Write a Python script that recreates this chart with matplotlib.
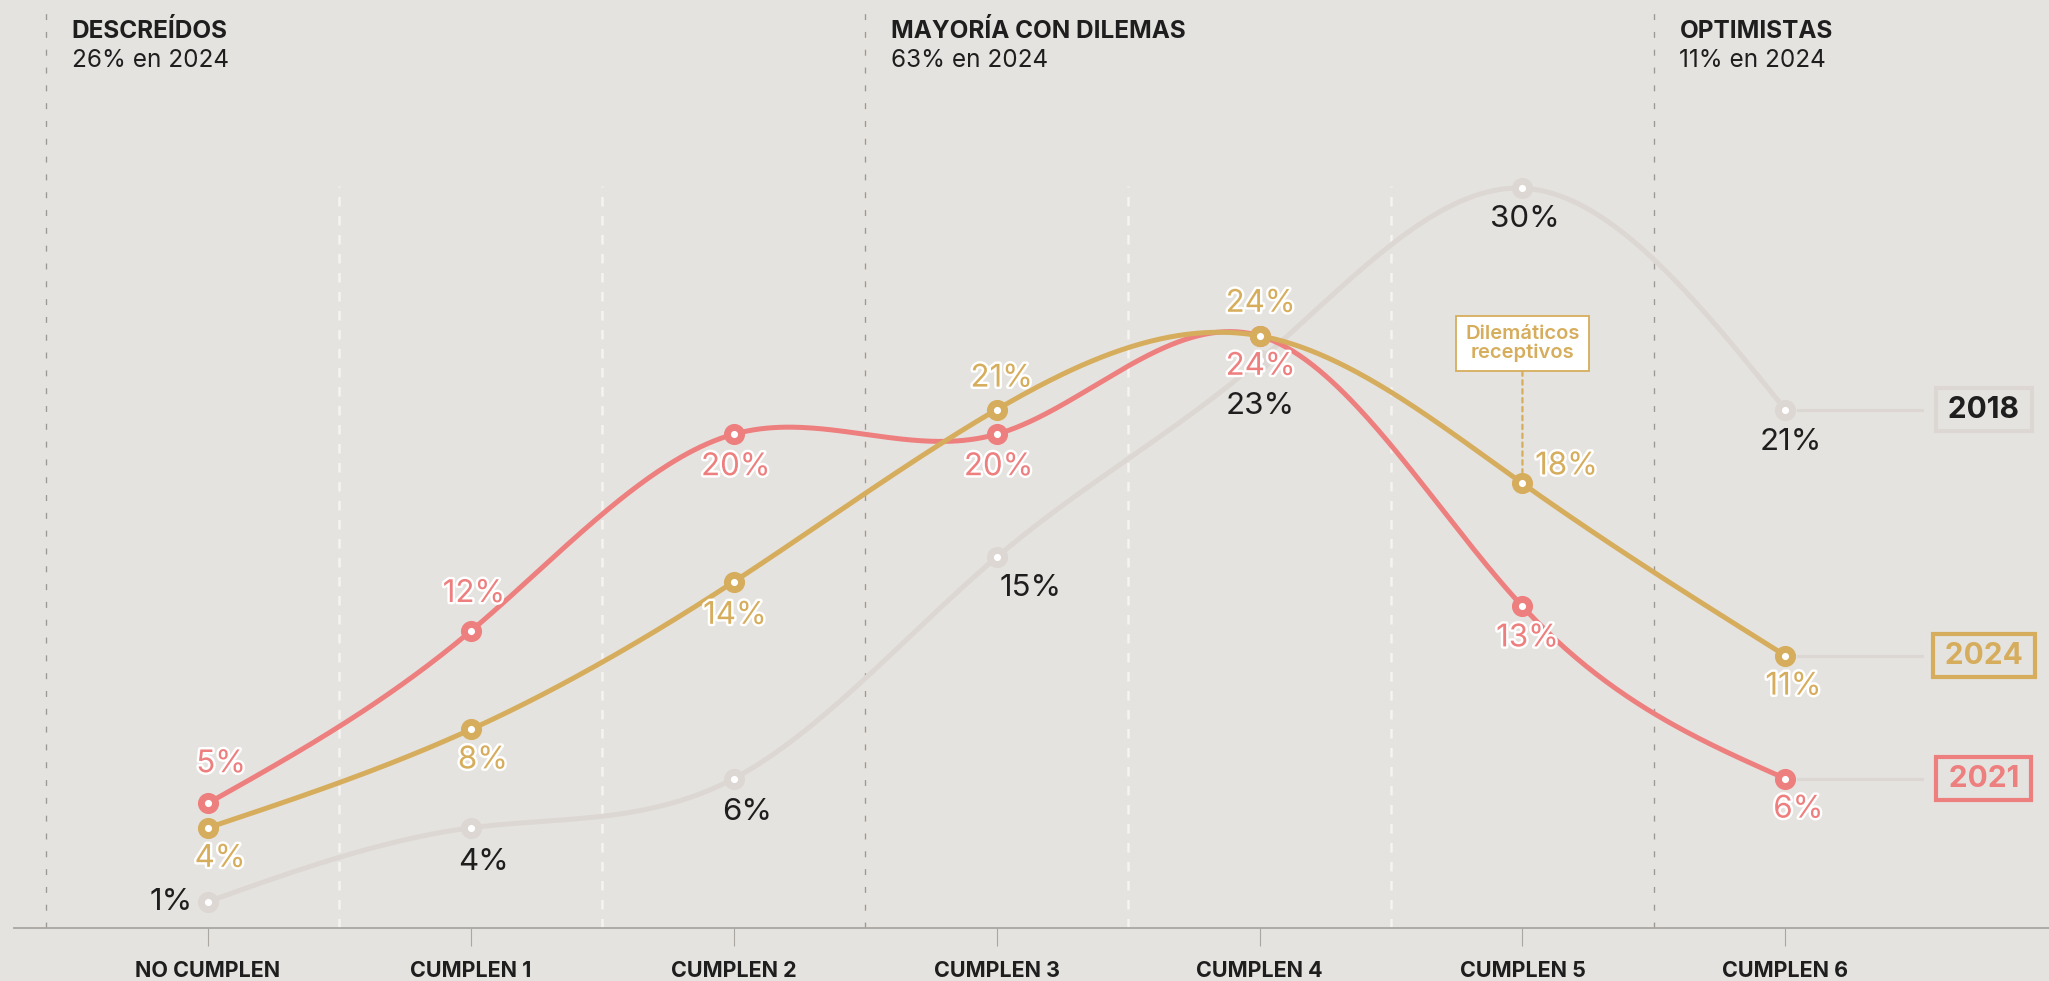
import numpy as np
import matplotlib
matplotlib.use('Agg')
from matplotlib import pyplot as plt
import matplotlib.patheffects as pe

plt.rcParams['font.family'] = ['Inter', 'DejaVu Sans']

# DATA
categories = ['NO CUMPLEN', 'CUMPLEN 1', 'CUMPLEN 2', 'CUMPLEN 3',
              'CUMPLEN 4', 'CUMPLEN 5', 'CUMPLEN 6']
v2018 = [1, 4, 6, 15, 23, 30, 21]
v2021 = [5, 12, 20, 20, 24, 13, 6]
v2024 = [4, 8, 14, 21, 24, 18, 11]
sections = ['DESCREÍDOS', 'MAYORÍA CON DILEMAS', 'OPTIMISTAS']
section_groups = [[0, 1, 2], [3, 4, 5], [6]]
annot_text = 'Dilemáticos\nreceptivos'
annot_idx = 5

# STYLE
bg = '#e5e3df'
c2018 = '#dcd7d3'
c2021 = '#ee7f7f'
c2024 = '#d6ad5c'
dark = '#1e1e1e'

# label offsets in pixels (dx, dy) measured down from the point
off2018 = [(-37, 0), (13, 34), (13, 33), (34, 31), (1, 46), (2, 31), (5, 32)]
off2021 = [(13, -39), (3, -37), (2, 33), (2, 33), (1, 31), (5, 32), (13, 31)]
off2024 = [(12, 31), (12, 31), (1, 34), (5, -31), (1, -32), (44, -17), (8, 31)]


def natural_spline(y, n=80):
    y = np.asarray(y, float)
    k = len(y)
    A = np.zeros((k, k))
    r = np.zeros(k)
    A[0, 0] = A[-1, -1] = 1
    for i in range(1, k - 1):
        A[i, i - 1] = 1
        A[i, i] = 4
        A[i, i + 1] = 1
        r[i] = 6 * (y[i + 1] - 2 * y[i] + y[i - 1])
    M = np.linalg.solve(A, r)
    xs, ys = [], []
    for i in range(k - 1):
        t = np.linspace(0, 1, n, endpoint=(i == k - 2))
        ys.append((1 - t) * y[i] + t * y[i + 1]
                  + (M[i] * ((1 - t) ** 3 - (1 - t)) + M[i + 1] * (t ** 3 - t)) / 6)
        xs.append(i + t)
    return np.concatenate(xs), np.concatenate(ys)


W, H = 2049, 981
fig = plt.figure(figsize=(W / 100, H / 100), dpi=100, facecolor=bg)
ax = fig.add_axes([14 / W, (H - 927.7) / H, 1 - 14 / W, 927.7 / H])
ax.set_facecolor(bg)
ax.set_xlim(-0.738, 7.003)
ax.set_ylim(-0.061, 37.65)

for s in ['top', 'left', 'right']:
    ax.spines[s].set_visible(False)
ax.spines['bottom'].set_color('#aaa6a2')
ax.spines['bottom'].set_linewidth(1.3)
ax.set_yticks([])
ax.set_xticks(range(len(categories)))
ax.set_xticklabels(categories, fontsize=15.5, fontweight='bold', color=dark)
ax.tick_params(axis='x', length=13, width=0.8, color='#aaa6a2', pad=11)

# section separators and headers
sec_x = [-0.615, 2.5, 5.5]
for x in sec_x:
    ax.axvline(x, 0, 0.987, color='#9c9894', lw=0.95, ls=(0, (4.5, 9)), zorder=1)
for x in [0.5, 1.5, 3.5, 4.5]:
    ax.axvline(x, 0, 0.799, color='#f5f4f1', lw=1.8, ls=(0, (3.8, 3.8)), zorder=1)

xt = ax.get_xaxis_transform()
for x, name, grp in zip(sec_x, sections, section_groups):
    share = sum(v2024[i] for i in grp)
    ax.text(x + 0.097, 0.9594, name, transform=xt, fontsize=17.5, fontweight='bold',
            color=dark, va='baseline', ha='left')
    ax.text(x + 0.097, 0.9278, f'{share}% en 2024', transform=xt, fontsize=17.5,
            color=dark, va='baseline', ha='left')

# lines
series = [(v2018, c2018, off2018, dark, 2),
          (v2021, c2021, off2021, c2021, 3),
          (v2024, c2024, off2024, c2024, 4)]
x = np.arange(len(categories))
for vals, col, offs, tcol, z in series:
    sx, sy = natural_spline(vals)
    ax.plot(sx, sy, color=col, lw=3.6, zorder=z, solid_capstyle='round')
    ax.plot(x, vals, ls='none', marker='o', ms=10.2, mew=5, mfc='white', mec=col, zorder=z + 0.5)

# value labels
for vals, col, offs, tcol, z in series:
    outline = col != c2018
    for i, v in enumerate(vals):
        dx, dy = offs[i]
        t = ax.annotate(f'{v}%', (i, v), xytext=(dx, -dy), textcoords='offset pixels',
                        ha='center', va='center', fontsize=22.5, color=tcol, zorder=10)
        if outline:
            t.set_path_effects([pe.withStroke(linewidth=3.5, foreground='white')])

# right side year boxes
for vals, col, year, tcol in [(v2018, c2018, '2018', dark), (v2024, c2024, '2024', c2024),
                              (v2021, c2021, '2021', c2021)]:
    ax.plot([6.05, 6.52], [vals[-1], vals[-1]], color=c2018, lw=2.2, zorder=1.5)
    ax.text(6.755, vals[-1], '\u2009' + year + '\u2009', ha='center', va='center', fontsize=21.5,
            fontweight='bold', color=tcol, zorder=10,
            bbox=dict(boxstyle='square,pad=0.25', fc='none', ec=col, lw=3))

# annotation
ax.annotate(annot_text, (annot_idx, v2024[annot_idx]), xytext=(0, 140), textcoords='offset pixels',
            ha='center', va='center', fontsize=14.5, fontweight='semibold', color=c2024,
            linespacing=1.0, zorder=11,
            bbox=dict(boxstyle='square,pad=0.45', fc='white', ec=c2024, lw=1.3),
            arrowprops=dict(arrowstyle='-', color=c2024, lw=1.6, ls=(0, (2, 2)),
                            shrinkA=0, shrinkB=8))

plt.savefig('out.png', dpi=100, facecolor=bg)
